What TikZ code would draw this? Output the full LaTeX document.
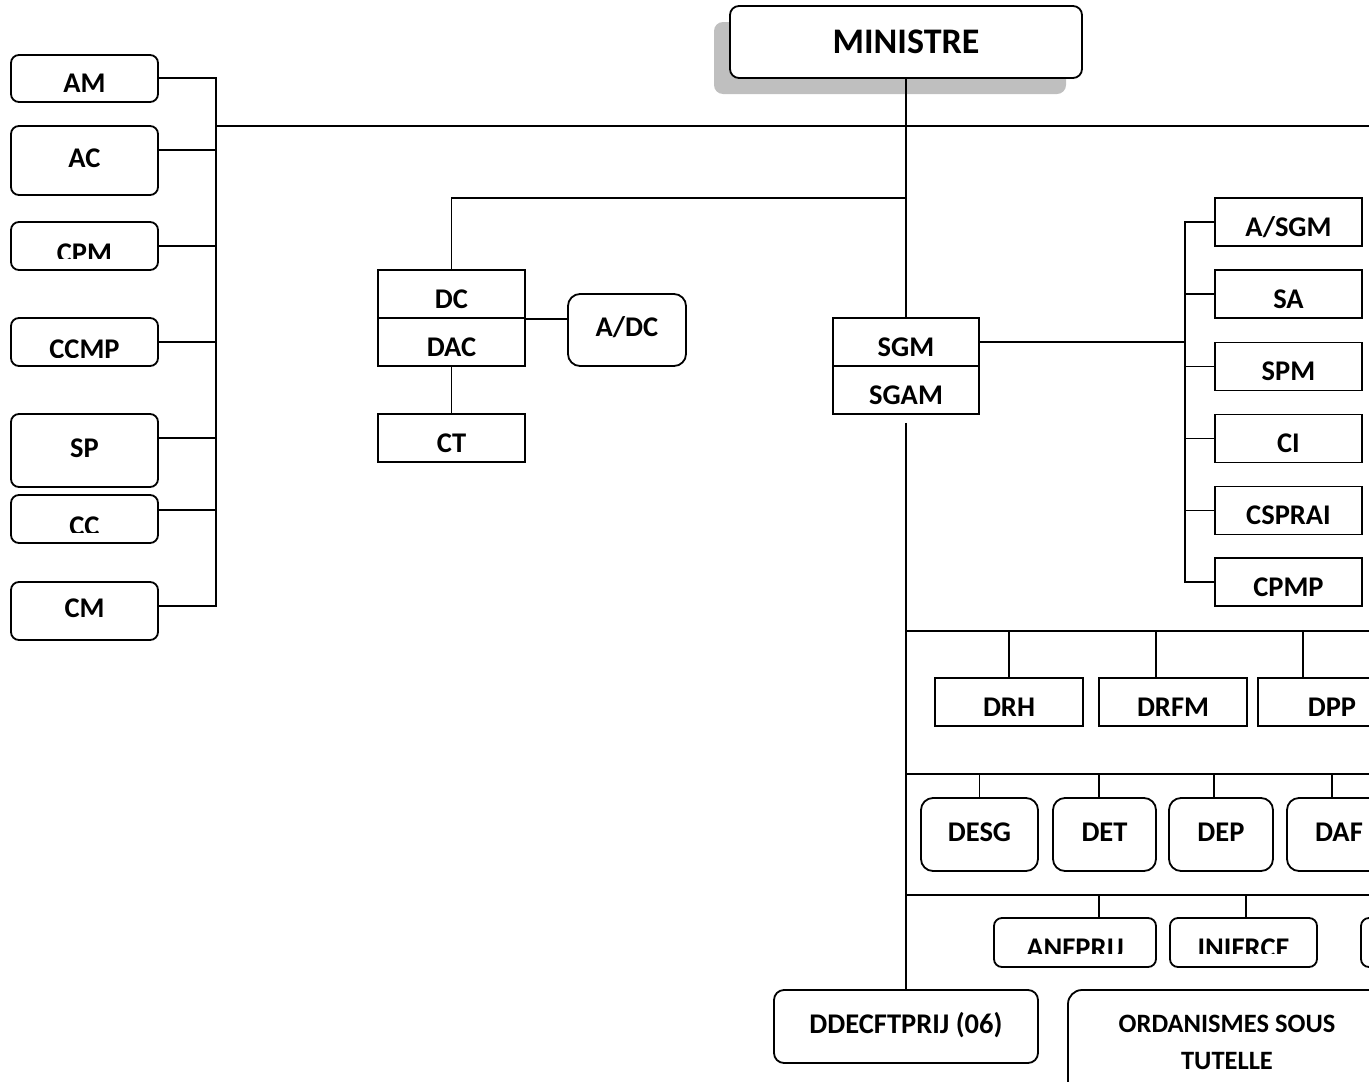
\documentclass[tikz,border=0pt]{standalone}
\usepackage{fontspec}
\setmainfont{Carlito}
\usetikzlibrary{shadows}

\newcommand\lblfont{\fontsize{28.5}{34}\selectfont\bfseries}

\tikzset{
  orgnode/.style={draw, line width=1.8pt, inner sep=0pt, font=\lblfont},
  squarebox/.style={orgnode, text height=28pt, text depth=0pt},
  roundbox/.style={orgnode, rounded corners=8pt, text height=18pt, text depth=5pt},
  link/.style={line width=1.8pt},
}

% label whose lower part is cut off inside its box
\newcommand\cuttext[4]{%
  \begin{scope}
    \clip (#1.north west) rectangle ([yshift=#3]#1.south east);
    \node[font=\lblfont, inner sep=0pt, text height=18pt, text depth=0pt]
      (#1-txt) at ([yshift=-#4]#1.center) {#2};
  \end{scope}}

\begin{document}
\begin{tikzpicture}[x=1pt, y=-1pt]
\useasboundingbox (0,0) rectangle (1369,1082);
\clip (0,0) rectangle (1369,1082);

% top
\node[roundbox, rounded corners=9pt, minimum width=352, minimum height=72,
  font=\fontsize{36}{40}\selectfont\bfseries, text height=23pt, text depth=0pt,
  fill=white, drop shadow={shadow xshift=-16pt, shadow yshift=-16pt, fill=black!25, opacity=1}]
  (ministre) at (906,42) {MINISTRE};

% ---- left column ----
\node[roundbox, minimum width=147, minimum height=47] (am)   at (84.5,78.5)  {};
\node[roundbox, minimum width=147, minimum height=69] (ac)   at (84.5,160.5) {AC};
\node[roundbox, minimum width=147, minimum height=48] (cpm)  at (84.5,246)   {};
\node[roundbox, minimum width=147, minimum height=48] (ccmp) at (84.5,342)   {};
\node[roundbox, minimum width=147, minimum height=73] (sp)   at (84.5,450.5) {SP};
\node[roundbox, minimum width=147, minimum height=48] (cc)   at (84.5,519)   {};
\node[roundbox, minimum width=147, minimum height=58] (cm)   at (84.5,611)   {CM};
\cuttext{am}{AM}{10pt}{5.35pt}
\cuttext{cpm}{CPM}{12pt}{7.85pt}
\cuttext{ccmp}{CCMP}{9pt}{7.85pt}
\cuttext{cc}{CC}{11pt}{7.85pt}

\coordinate (ljoin) at (216,126);
\coordinate (redge) at (1380,126);
\draw[link] (ljoin) -- (redge);
\foreach \n/\dy in {am/0.5pt, ac/10.5pt, cpm/0pt, ccmp/0pt, sp/12.5pt, cc/9pt, cm/5pt}
  \draw[link] ([yshift=\dy]\n.east) -| (ljoin);

% ---- DC branch ----
\node[squarebox, minimum width=147, minimum height=48] (dc)  at (451.5,294) {DC};
\node[squarebox, minimum width=147, minimum height=48] (dac) at (451.5,342) {DAC};
\node[squarebox, minimum width=147, minimum height=48] (ct)  at (451.5,438) {CT};
\node[roundbox, rounded corners=12pt, minimum width=118, minimum height=72] (adc) at (627,330) {A/DC};
\coordinate (dcjoin) at (906,198);
\draw[link] (dcjoin) -| (dc.north);
\draw[link] (dc.south east) -- (dc.south east -| adc.west);
\draw[link] (dac) -- (ct);

% ---- SGM ----
\node[squarebox, minimum width=146, minimum height=48] (sgm)  at (906,342) {SGM};
\node[squarebox, minimum width=146, minimum height=48] (sgam) at (906,390) {SGAM};
\draw[link] (ministre) -- (sgm);

\coordinate (rjoin) at (1185,342);
\draw[link] (sgm.east) -- (rjoin);
\foreach \n/\y/\t in {asgm/222/{A/SGM}, sa/294/SA, spm/366.5/SPM,
                      ci/438.5/CI, cspr/510.5/CSPRAI, cpmp/582/CPMP}{
  \node[squarebox, minimum width=147, minimum height=48] (\n) at (1288.5,\y) {\t};
  \draw[link] (\n.west) -| (rjoin);
}

% ---- trunk ----
\node[roundbox, rounded corners=10pt, minimum width=264, minimum height=73] (ddec) at (906,1026.5) {DDECFTPRIJ (06)};
\draw[link, shorten <=8pt] (sgam) -- (ddec);

\coordinate (row1) at (906,631);
\coordinate (row2) at (906,774);
\coordinate (row3) at (906,895);
\foreach \r in {row1,row2,row3}
  \draw[link] (\r) -- (\r -| redge);

% directions
\foreach \n/\x/\w/\dx/\t in {drh/1009/148/0pt/DRH, drfm/1173/148/-17pt/DRFM, dpp/1332/148/-29pt/DPP}{
  \node[squarebox, minimum width=\w, minimum height=48] (\n) at (\x,702) {\t};
  \draw[link] ([xshift=\dx]\n.north) -- ([xshift=\dx]\n.north |- row1);
}
\foreach \n/\x/\w/\dx/\t in {desg/979.5/117/0pt/DESG, det/1104.5/103/-5.5pt/DET,
                             dep/1221/104/-7pt/DEP, daf/1339/104/-7pt/DAF}{
  \node[roundbox, rounded corners=12pt, minimum width=\w, minimum height=73] (\n) at (\x,834.5) {\t};
  \draw[link] ([xshift=\dx]\n.north) -- ([xshift=\dx]\n.north |- row2);
}

% agencies
\node[roundbox, minimum width=162, minimum height=49] (anf)  at (1075,942.5)   {};
\node[roundbox, minimum width=147, minimum height=49] (ini)  at (1243.5,942.5) {};
\node[roundbox, minimum width=147, minimum height=49] (agc3) at (1434.5,942.5) {};
\cuttext{anf}{ANFPRIJ}{14pt}{6.35pt}
\cuttext{ini}{INIFRCE}{14pt}{6.35pt}
\draw[link] ([xshift=24pt]anf.north) -- ([xshift=24pt]anf.north |- row3);
\draw[link] ([xshift=2.5pt]ini.north) -- ([xshift=2.5pt]ini.north |- row3);

\node[orgnode, rounded corners=14pt, minimum width=318, minimum height=105, align=center,
  font=\fontsize{26.5}{37}\selectfont\bfseries] (org) at (1227,1042.5) {ORDANISMES SOUS\\TUTELLE};
\end{tikzpicture}
\end{document}
